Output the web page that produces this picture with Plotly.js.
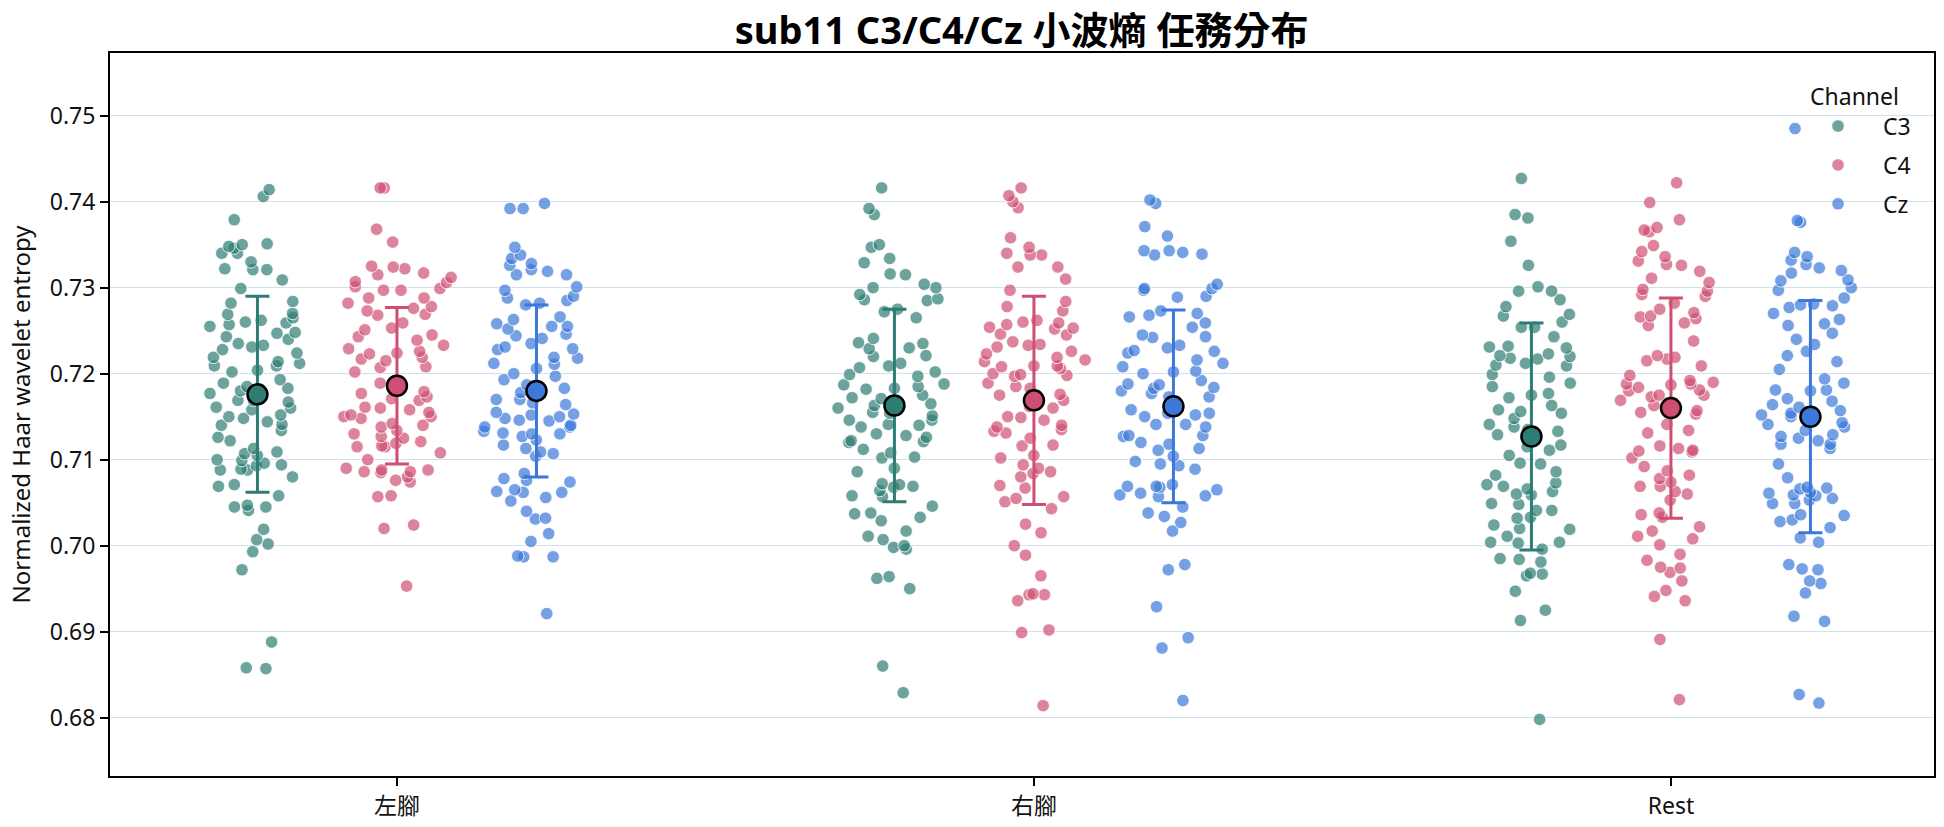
<!DOCTYPE html>
<html>
<head>
<meta charset="utf-8">
<script src="https://cdn.plot.ly/plotly-3.0.1.min.js"></script>
<style>html,body{margin:0;padding:0;background:#fff;}#chart{width:1944px;height:827px;}</style>
</head>
<body>
<div id="chart"></div>
<script>
// ---- data ----
const categories = ['左腳', '右腳', 'Rest'];
const channels = ['C3', 'C4', 'Cz'];

const c3_left = [0.7414,0.7406,0.7379,0.7348,0.7350,0.7351,0.7346,0.7340,0.7340,0.7330,0.7322,0.7321,0.7321,0.7309,0.7299,0.7284,0.7282,0.7270,0.7269,0.7265,0.7262,0.7260,0.7259,0.7257,0.7255,0.7248,0.7247,0.7243,0.7240,0.7235,0.7233,0.7231,0.7228,0.7224,0.7219,0.7214,0.7212,0.7209,0.7209,0.7204,0.7202,0.7193,0.7189,0.7185,0.7183,0.7180,0.7177,0.7169,0.7169,0.7167,0.7161,0.7160,0.7158,0.7152,0.7150,0.7148,0.7144,0.7141,0.7140,0.7134,0.7126,0.7122,0.7113,0.7109,0.7107,0.7105,0.7100,0.7099,0.7096,0.7094,0.7093,0.7089,0.7088,0.7088,0.7080,0.7069,0.7071,0.7058,0.7047,0.7045,0.7045,0.7041,0.7019,0.7007,0.7002,0.6993,0.6972,0.6888,0.6858,0.6857];
const c4_left = [0.7416,0.7416,0.7368,0.7353,0.7325,0.7324,0.7322,0.7317,0.7315,0.7312,0.7307,0.7306,0.7301,0.7299,0.7297,0.7297,0.7288,0.7288,0.7282,0.7278,0.7276,0.7273,0.7269,0.7268,0.7259,0.7253,0.7251,0.7245,0.7243,0.7239,0.7233,0.7229,0.7226,0.7224,0.7223,0.7219,0.7217,0.7215,0.7207,0.7208,0.7202,0.7189,0.7187,0.7179,0.7177,0.7173,0.7171,0.7169,0.7161,0.7160,0.7158,0.7155,0.7152,0.7150,0.7150,0.7148,0.7142,0.7140,0.7138,0.7134,0.7130,0.7127,0.7125,0.7121,0.7119,0.7116,0.7115,0.7115,0.7108,0.7100,0.7090,0.7088,0.7088,0.7086,0.7086,0.7085,0.7080,0.7076,0.7074,0.7057,0.7058,0.7024,0.7020,0.6953];
const cz_left = [0.7398,0.7392,0.7392,0.7347,0.7338,0.7334,0.7328,0.7326,0.7321,0.7319,0.7315,0.7315,0.7301,0.7297,0.7290,0.7288,0.7285,0.7282,0.7280,0.7266,0.7263,0.7258,0.7255,0.7255,0.7252,0.7246,0.7244,0.7241,0.7235,0.7231,0.7229,0.7228,0.7219,0.7218,0.7212,0.7211,0.7206,0.7200,0.7197,0.7193,0.7187,0.7183,0.7178,0.7170,0.7170,0.7166,0.7164,0.7155,0.7153,0.7152,0.7150,0.7148,0.7146,0.7145,0.7140,0.7138,0.7138,0.7133,0.7131,0.7130,0.7130,0.7127,0.7123,0.7117,0.7113,0.7109,0.7107,0.7104,0.7078,0.7074,0.7084,0.7076,0.7065,0.7063,0.7062,0.7062,0.7056,0.7052,0.7040,0.7032,0.7031,0.7014,0.7005,0.6988,0.6987,0.6987,0.6921];

const c3_right = [0.7416,0.7392,0.7385,0.7350,0.7347,0.7334,0.7329,0.7316,0.7315,0.7304,0.7300,0.7300,0.7292,0.7287,0.7286,0.7285,0.7275,0.7272,0.7265,0.7241,0.7236,0.7235,0.7230,0.7229,0.7221,0.7220,0.7212,0.7209,0.7207,0.7202,0.7199,0.7197,0.7188,0.7187,0.7185,0.7183,0.7182,0.7175,0.7172,0.7171,0.7165,0.7163,0.7160,0.7155,0.7154,0.7151,0.7146,0.7146,0.7141,0.7140,0.7138,0.7130,0.7128,0.7126,0.7122,0.7121,0.7120,0.7112,0.7108,0.7103,0.7102,0.7090,0.7086,0.7072,0.7071,0.7069,0.7068,0.7064,0.7058,0.7057,0.7046,0.7038,0.7037,0.7033,0.7029,0.7017,0.7011,0.7007,0.7000,0.6998,0.6996,0.6964,0.6962,0.6950,0.6860,0.6829];
const c4_right = [0.7416,0.7407,0.7400,0.7393,0.7358,0.7347,0.7340,0.7338,0.7338,0.7324,0.7324,0.7310,0.7297,0.7284,0.7278,0.7273,0.7262,0.7260,0.7259,0.7257,0.7254,0.7253,0.7252,0.7246,0.7245,0.7237,0.7234,0.7233,0.7231,0.7226,0.7223,0.7219,0.7216,0.7214,0.7209,0.7209,0.7208,0.7206,0.7200,0.7199,0.7198,0.7197,0.7189,0.7185,0.7183,0.7176,0.7175,0.7169,0.7162,0.7160,0.7150,0.7149,0.7146,0.7140,0.7138,0.7135,0.7133,0.7131,0.7125,0.7117,0.7116,0.7105,0.7102,0.7094,0.7090,0.7086,0.7084,0.7080,0.7070,0.7067,0.7057,0.7055,0.7051,0.7043,0.7025,0.7015,0.7000,0.6989,0.6965,0.6944,0.6943,0.6943,0.6936,0.6902,0.6899,0.6814];
const cz_right = [0.7402,0.7398,0.7371,0.7360,0.7343,0.7343,0.7341,0.7339,0.7338,0.7304,0.7299,0.7297,0.7299,0.7290,0.7289,0.7273,0.7270,0.7268,0.7266,0.7259,0.7254,0.7245,0.7243,0.7242,0.7233,0.7230,0.7227,0.7226,0.7224,0.7216,0.7212,0.7208,0.7203,0.7202,0.7200,0.7192,0.7188,0.7187,0.7184,0.7183,0.7180,0.7177,0.7173,0.7173,0.7158,0.7154,0.7154,0.7152,0.7150,0.7141,0.7141,0.7138,0.7128,0.7128,0.7127,0.7120,0.7118,0.7113,0.7111,0.7104,0.7098,0.7095,0.7093,0.7089,0.7071,0.7069,0.7069,0.7068,0.7065,0.7061,0.7059,0.7058,0.7057,0.7045,0.7038,0.7034,0.7027,0.7017,0.6978,0.6972,0.6929,0.6893,0.6881,0.6820];

const c3_rest = [0.7427,0.7385,0.7381,0.7354,0.7326,0.7301,0.7296,0.7296,0.7286,0.7278,0.7269,0.7267,0.7260,0.7254,0.7254,0.7243,0.7232,0.7231,0.7230,0.7221,0.7223,0.7220,0.7218,0.7217,0.7212,0.7210,0.7209,0.7199,0.7196,0.7189,0.7185,0.7177,0.7175,0.7172,0.7163,0.7158,0.7156,0.7154,0.7148,0.7141,0.7138,0.7135,0.7133,0.7129,0.7117,0.7115,0.7111,0.7105,0.7096,0.7095,0.7086,0.7082,0.7073,0.7071,0.7069,0.7066,0.7063,0.7060,0.7059,0.7049,0.7048,0.7041,0.7041,0.7033,0.7032,0.7024,0.7020,0.7019,0.7011,0.7004,0.7004,0.7003,0.6996,0.6985,0.6984,0.6981,0.6968,0.6967,0.6965,0.6947,0.6925,0.6913,0.6798];
const c4_rest = [0.7422,0.7399,0.7379,0.7370,0.7367,0.7365,0.7349,0.7342,0.7336,0.7331,0.7327,0.7326,0.7319,0.7311,0.7306,0.7298,0.7296,0.7292,0.7290,0.7282,0.7275,0.7271,0.7267,0.7266,0.7264,0.7259,0.7256,0.7238,0.7221,0.7219,0.7217,0.7215,0.7209,0.7198,0.7192,0.7190,0.7188,0.7188,0.7187,0.7184,0.7181,0.7180,0.7175,0.7175,0.7173,0.7169,0.7163,0.7158,0.7157,0.7155,0.7153,0.7141,0.7134,0.7131,0.7116,0.7113,0.7111,0.7110,0.7109,0.7102,0.7092,0.7087,0.7082,0.7078,0.7074,0.7069,0.7069,0.7063,0.7060,0.7053,0.7038,0.7036,0.7033,0.7022,0.7017,0.7011,0.7008,0.7001,0.6990,0.6983,0.6975,0.6974,0.6969,0.6959,0.6948,0.6941,0.6936,0.6891,0.6821];
const cz_rest = [0.7485,0.7378,0.7376,0.7341,0.7336,0.7332,0.7327,0.7323,0.7320,0.7317,0.7309,0.7308,0.7300,0.7297,0.7288,0.7281,0.7280,0.7279,0.7277,0.7270,0.7263,0.7258,0.7256,0.7247,0.7240,0.7234,0.7226,0.7221,0.7214,0.7205,0.7194,0.7189,0.7181,0.7181,0.7180,0.7171,0.7168,0.7164,0.7161,0.7157,0.7154,0.7152,0.7150,0.7148,0.7143,0.7141,0.7138,0.7134,0.7129,0.7127,0.7125,0.7122,0.7118,0.7118,0.7113,0.7095,0.7079,0.7068,0.7067,0.7066,0.7062,0.7061,0.7059,0.7058,0.7055,0.7053,0.7049,0.7049,0.7036,0.7035,0.7030,0.7028,0.7021,0.7009,0.7004,0.6978,0.6973,0.6972,0.6959,0.6956,0.6945,0.6918,0.6912,0.6827,0.6817];

// mean and SD per channel, in category order (左腳, 右腳, Rest)
const c3_mean = [0.7176, 0.7163, 0.7127];
const c4_mean = [0.7186, 0.7169, 0.7160];
const cz_mean = [0.7180, 0.7162, 0.7150];
const c3_sd = [0.0114, 0.0112, 0.0132];
const c4_sd = [0.0091, 0.0121, 0.0128];
const cz_sd = [0.0100, 0.0112, 0.0135];

// ---- styling ----
const solid = {C3: '#2d7d74', C4: '#cf4f72', Cz: '#3b78d9'};
const faint = {C3: 'rgba(45,125,116,0.7)', C4: 'rgba(207,79,114,0.7)', Cz: 'rgba(59,120,217,0.7)'};
const dodge = {C3: -0.219, C4: 0, Cz: 0.219};
const FONT = 'Noto Sans, Noto Sans CJK TC, sans-serif';

const groups = {
  C3: [c3_left, c3_right, c3_rest],
  C4: [c4_left, c4_right, c4_rest],
  Cz: [cz_left, cz_right, cz_rest]
};
const meansBy = {C3: c3_mean, C4: c4_mean, Cz: cz_mean};
const sdBy = {C3: c3_sd, C4: c4_sd, Cz: cz_sd};

const traces = [];
channels.forEach(ch => {
  groups[ch].forEach((vals, ci) => {
    traces.push({
      type: 'box', y: vals, x0: ci + dodge[ch], width: 0.19,
      boxpoints: 'all', jitter: 1, pointpos: 0,
      fillcolor: 'rgba(0,0,0,0)', line: {width: 0, color: 'rgba(0,0,0,0)'},
      whiskerwidth: 0,
      marker: {size: 12.5, color: faint[ch], line: {width: 1, color: 'rgba(255,255,255,0.8)'}},
      hoveron: 'points', showlegend: false, name: ch
    });
  });
});
channels.forEach(ch => {
  traces.push({
    type: 'scatter', mode: 'markers',
    x: categories.map((c, i) => i + dodge[ch]), y: meansBy[ch],
    error_y: {type: 'data', array: sdBy[ch], visible: true, color: solid[ch], thickness: 3, width: 12},
    marker: {size: 20, color: solid[ch], line: {width: 2.5, color: '#000'}},
    showlegend: false, name: ch
  });
});
// legend entries
channels.forEach(ch => {
  traces.push({
    type: 'scatter', mode: 'markers', x: [null], y: [null], name: ch,
    legendgroup: ch,
    marker: {size: 12.5, color: faint[ch], line: {width: 1, color: 'rgba(255,255,255,0.8)'}},
    showlegend: true
  });
});

const layout = {
  width: 1944, height: 827,
  margin: {l: 110, r: 10, t: 53, b: 51},
  paper_bgcolor: '#fff', plot_bgcolor: '#fff',
  font: {family: FONT, size: 23, color: '#111'},
  title: {text: 'sub11 C3/C4/Cz 小波熵 任務分布', font: {family: FONT, size: 38, color: '#000', weight: 'bold'},
          x: 0.5255, xanchor: 'center', y: 0.963, yanchor: 'middle'},
  xaxis: {
    type: 'linear', range: [-0.4505, 2.413],
    tickmode: 'array', tickvals: [0, 1, 2], ticktext: categories,
    showgrid: false, zeroline: false,
    showline: true, mirror: true, linecolor: '#000', linewidth: 2,
    ticks: 'outside', ticklen: 8, tickwidth: 2, tickcolor: '#000',
    tickfont: {size: 23, color: '#111'}
  },
  yaxis: {
    range: [0.67322, 0.75729], tick0: 0.68, dtick: 0.01, tickformat: '.2f',
    showgrid: true, gridcolor: '#d3e0ec', gridwidth: 1.5, zeroline: false,
    showline: true, mirror: true, linecolor: '#000', linewidth: 2,
    ticks: 'outside', ticklen: 8, tickwidth: 2, tickcolor: '#000',
    tickfont: {size: 23, color: '#111'},
    title: {text: 'Normalized Haar wavelet entropy', font: {size: 24, color: '#111'}, standoff: 12}
  },
  showlegend: true,
  legend: {
    x: 0.9227, xanchor: 'left', y: 0.97, yanchor: 'top',
    bgcolor: 'rgba(0,0,0,0)', borderwidth: 0,
    title: {text: 'Channel', side: 'top center', font: {size: 23}},
    itemwidth: 80, traceorder: 'grouped', tracegroupgap: 6,
    font: {size: 23}
  }
};

Plotly.newPlot('chart', traces, layout, {displayModeBar: false, staticPlot: true});
</script>
</body>
</html>
